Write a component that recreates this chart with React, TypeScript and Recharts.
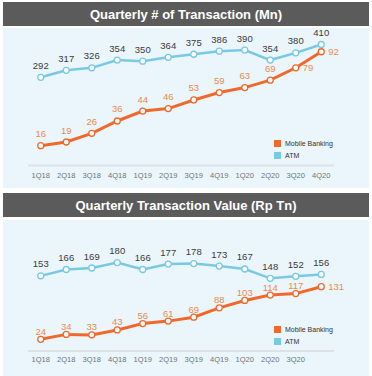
import { LineChart, Line, XAxis, YAxis, LabelList } from "recharts";

const quarters = ["1Q18", "2Q18", "3Q18", "4Q18", "1Q19", "2Q19", "3Q19", "4Q19", "1Q20", "2Q20", "3Q20", "4Q20"];
const valueTickLabels = ["1Q18", "2Q18", "3Q18", "4Q18", "1Q19", "2Q19", "3Q19", "4Q19", "1Q20", "2Q20", "3Q20", ""];

const txnAtm = [292, 317, 326, 354, 350, 364, 375, 386, 390, 354, 380, 410];
const txnMobile = [16, 19, 26, 36, 44, 46, 53, 59, 63, 69, 79, 92];

const valAtm = [153, 166, 169, 180, 166, 177, 178, 173, 167, 148, 152, 156];
const valMobile = [24, 34, 33, 43, 56, 61, 69, 88, 103, 114, 117, 131];

const ORANGE = "#f0692b";
const ORANGE_TEXT = "#ea8a4c";
const BLUE = "#78c9e3";
const FONT = "'Liberation Sans', Arial, sans-serif";

const txnData = quarters.map((q, i) => ({ q, atm: txnAtm[i], mb: txnMobile[i] }));
const valData = quarters.map((q, i) => ({ q, atm: valAtm[i], mb: valMobile[i] }));

function makeLabel(color: string, offset: number, rightFrom: number) {
  return (props: any) => {
    const { x, y, value, index } = props;
    const right = index >= rightFrom;
    return (
      <text
        x={right ? x + 7 : x}
        y={right ? y : y - offset}
        fill={color}
        fontSize={9.5}
        fontFamily={FONT}
        textAnchor={right ? "start" : "middle"}
        dominantBaseline="central"
      >
        {value}
      </text>
    );
  };
}

// legend drawn as plain html so it doesn't eat into the plot area
function LegendBox({ top }: { top: number }) {
  const items = [
    { name: "Mobile Banking", color: ORANGE },
    { name: "ATM", color: BLUE },
  ];
  return (
    <div style={{ position: "absolute", left: 274, top, fontFamily: FONT, fontSize: 7, color: "#333" }}>
      {items.map((it) => (
        <div key={it.name} style={{ display: "flex", alignItems: "center", height: 12 }}>
          <span style={{ width: 7, height: 7, background: it.color, marginRight: 4, display: "inline-block" }} />
          {it.name}
        </div>
      ))}
    </div>
  );
}

function Header({ top, title }: { top: number; title: string }) {
  return (
    <div
      style={{
        position: "absolute",
        left: 3,
        top,
        width: 366,
        height: 24,
        background: "#5b5b5b",
        color: "#fff",
        fontFamily: FONT,
        fontWeight: "bold",
        fontSize: 13,
        display: "flex",
        alignItems: "center",
        justifyContent: "center",
      }}
    >
      {title}
    </div>
  );
}

export default function App() {
  const tickStyle = { fontSize: 7.5, fill: "#6f7479", fontFamily: FONT };
  return (
    <div style={{ position: "absolute", left: 0, top: 0, width: 372, height: 376, background: "#fff", overflow: "hidden" }}>
      <Header top={2} title="Quarterly # of Transaction (Mn)" />
      <div style={{ position: "absolute", left: 3, top: 28, width: 366, height: 160, background: "#eaf6fb" }} />
      <div style={{ position: "absolute", left: 0, top: 28 }}>
        <LineChart width={372} height={160} data={txnData} margin={{ top: 10, right: 38, bottom: 2.5, left: 28 }}>
          <XAxis
            dataKey="q"
            padding={{ left: 12.75, right: 12.75 }}
            axisLine={{ stroke: "#dbe3e7", strokeWidth: 2 }}
            tickLine={false}
            tickSize={5}
            tickMargin={2}
            height={20}
            tick={tickStyle}
            interval={0}
          />
          <YAxis yAxisId="atm" hide domain={[-25.3, 433.4]} allowDataOverflow />
          <YAxis yAxisId="mb" hide domain={[0, 103.1]} allowDataOverflow />
          <Line
            yAxisId="atm"
            dataKey="atm"
            name="ATM"
            stroke={BLUE}
            strokeWidth={2.5}
            dot={{ r: 3, fill: "#fff", stroke: BLUE, strokeWidth: 1.3 }}
            isAnimationActive={false}
          >
            <LabelList dataKey="atm" content={makeLabel("#3a3a3a", 12, 99)} />
          </Line>
          <Line
            yAxisId="mb"
            dataKey="mb"
            name="Mobile Banking"
            stroke={ORANGE}
            strokeWidth={3}
            dot={{ r: 3, fill: "#fff", stroke: ORANGE, strokeWidth: 1.3 }}
            isAnimationActive={false}
          >
            <LabelList dataKey="mb" content={makeLabel(ORANGE_TEXT, 12, 10)} />
          </Line>
        </LineChart>
      </div>
      <LegendBox top={137.3} />

      <Header top={193} title="Quarterly Transaction Value (Rp Tn)" />
      <div style={{ position: "absolute", left: 3, top: 220, width: 366, height: 156, background: "#eaf6fb" }} />
      <div style={{ position: "absolute", left: 0, top: 220 }}>
        <LineChart width={372} height={156} data={valData} margin={{ top: 10, right: 38, bottom: 4.9, left: 28 }}>
          <XAxis
            dataKey="q"
            padding={{ left: 12.75, right: 12.75 }}
            axisLine={{ stroke: "#dbe3e7", strokeWidth: 2 }}
            tickLine={false}
            tickSize={4}
            tickMargin={2}
            height={20}
            tick={tickStyle}
            interval={0}
            tickFormatter={(_v: string, i: number) => valueTickLabels[i] ?? ""}
          />
          <YAxis hide domain={[0, 246.3]} allowDataOverflow />
          <Line
            dataKey="atm"
            name="ATM"
            stroke={BLUE}
            strokeWidth={2.5}
            dot={{ r: 3, fill: "#fff", stroke: BLUE, strokeWidth: 1.3 }}
            isAnimationActive={false}
          >
            <LabelList dataKey="atm" content={makeLabel("#3a3a3a", 12, 99)} />
          </Line>
          <Line
            dataKey="mb"
            name="Mobile Banking"
            stroke={ORANGE}
            strokeWidth={3}
            dot={{ r: 3, fill: "#fff", stroke: ORANGE, strokeWidth: 1.3 }}
            isAnimationActive={false}
          >
            <LabelList dataKey="mb" content={makeLabel(ORANGE_TEXT, 8, 11)} />
          </Line>
        </LineChart>
      </div>
      <LegendBox top={323.3} />
    </div>
  );
}
